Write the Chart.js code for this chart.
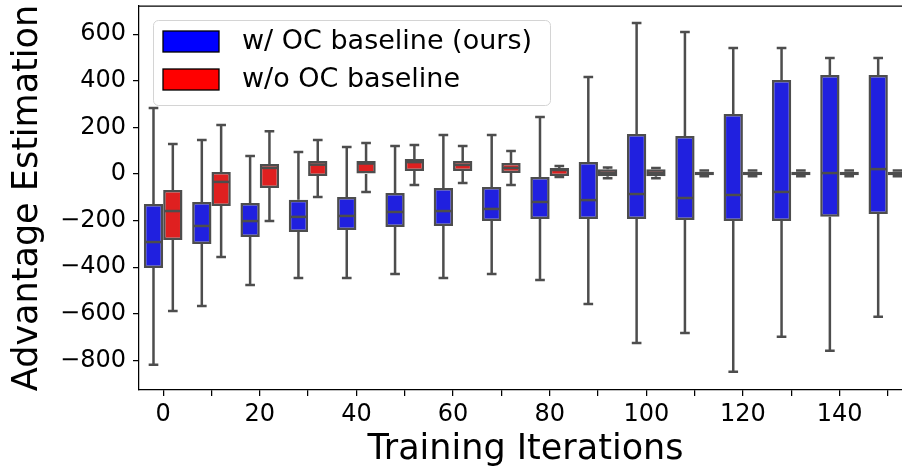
<!DOCTYPE html>
<html lang="en">
<head>
<meta charset="UTF-8">
<title>Advantage Estimation</title>
<script src="https://cdn.jsdelivr.net/npm/chart.js"></script>
<style>
html, body { margin:0; padding:0; background:#fff; overflow:hidden; }
</style>
</head>
<body>

<canvas id="boxChart" width="916" height="472"></canvas>

<script>
// categories (training iteration) and which ones carry a label
const iterations = ["0","10","20","30","40","50","60","70","80","90","100","110","120","130","140","150"];
const xTickLabels = ["0","","20","","40","","60","","80","","100","","120","","140",""];
const yTicks = [-800,-600,-400,-200,0,200,400,600];

// w/ OC baseline (ours) : whisker low, Q1, median, Q3, whisker high
const oursLow  = [-819,-566,-476,-446,-446,-429,-446,-429,-455,-558,-725,-682,-849,-699,-759,-613];
const oursQ1   = [-403,-300,-270,-249,-240,-227,-223,-202,-193,-193,-193,-197,-202,-202,-184,-172];
const oursMed  = [-292,-223,-202,-184,-180,-163,-159,-150,-120,-112,-86,-103,-90,-77,4,21];
const oursQ3   = [-129,-120,-124,-111,-99,-82,-60,-56,-13,51,172,163,257,403,425,425];
const oursHigh = [283,146,77,94,116,120,167,167,245,416,648,609,541,541,498,498];

// w/o OC baseline
const baseLow  = [-588,-356,-202,-99,-77,-47,-39,-47,-13,-18,-18,-10,-10,-10,-10,-10];
const baseQ1   = [-283,-137,-60,-9,0,13,13,4,-9,-10,-10,-5,-5,-5,-5,-5];
const baseMed  = [-159,-34,26,40,45,51,39,26,17,5,5,3,3,3,3,3];
const baseQ3   = [-69,9,43,56,56,64,56,47,26,20,20,10,10,10,10,10];
const baseHigh = [129,210,184,146,133,124,120,99,34,28,26,15,15,15,15,15];

const edgeGray = "#4d4d4d";

Chart.defaults.font.family = "'DejaVu Sans', sans-serif";
Chart.defaults.color = "#000";

function makeBox(label, fill, legendFill, lo, q1, med, q3, hi){
    return {
        label: label,
        data: q1.map((v,i)=>[v, q3[i]]),
        backgroundColor: fill,
        borderColor: edgeGray,
        borderWidth: 2.5,
        borderSkipped: false,
        categoryPercentage: 0.8,
        barPercentage: 1.0,
        legendFill: legendFill,
        lo: lo, q1: q1, med: med, q3: q3, hi: hi
    };
}

// whiskers behind the boxes, medians on top
const boxParts = {
    id: "boxParts",
    beforeDatasetsDraw(chart){
        const ctx = chart.ctx, y = chart.scales.y;
        ctx.save();
        ctx.strokeStyle = edgeGray;
        ctx.lineWidth = 2.5;
        chart.data.datasets.forEach((ds,di)=>{
            chart.getDatasetMeta(di).data.forEach((el,i)=>{
                const cx = el.x, cap = el.width/4;
                const pts = [[ds.q3[i], ds.hi[i]], [ds.q1[i], ds.lo[i]]];
                pts.forEach(p=>{
                    const a = y.getPixelForValue(p[0]), b = y.getPixelForValue(p[1]);
                    ctx.beginPath();
                    ctx.moveTo(cx, a); ctx.lineTo(cx, b);
                    ctx.moveTo(cx-cap, b); ctx.lineTo(cx+cap, b);
                    ctx.stroke();
                });
            });
        });
        ctx.restore();
    },
    afterDatasetsDraw(chart){
        const ctx = chart.ctx, y = chart.scales.y;
        ctx.save();
        ctx.strokeStyle = edgeGray;
        ctx.lineWidth = 2.5;
        chart.data.datasets.forEach((ds,di)=>{
            chart.getDatasetMeta(di).data.forEach((el,i)=>{
                const m = y.getPixelForValue(ds.med[i]);
                ctx.beginPath();
                ctx.moveTo(el.x-el.width/2+1, m); ctx.lineTo(el.x+el.width/2-1, m);
                ctx.stroke();
            });
        });
        ctx.restore();
    }
};

// top spine + legend box in the upper left of the plot
const frameLegend = {
    id: "frameLegend",
    afterDraw(chart){
        const ctx = chart.ctx, a = chart.chartArea;
        ctx.save();
        ctx.strokeStyle = "#000";
        ctx.lineWidth = 1.25;
        ctx.beginPath();
        ctx.moveTo(a.left, a.top); ctx.lineTo(a.right, a.top);
        ctx.stroke();

        const lx = a.left + 14, ly = a.top + 14, lw = 397, lh = 85;
        ctx.beginPath();
        ctx.roundRect(lx+0.5, ly+0.5, lw, lh, 5);
        ctx.fillStyle = "rgba(255,255,255,0.8)";
        ctx.fill();
        ctx.strokeStyle = "#d4d4d4";
        ctx.lineWidth = 1;
        ctx.stroke();

        ctx.font = "27px 'DejaVu Sans'";
        ctx.textBaseline = "middle";
        ctx.textAlign = "left";
        chart.data.datasets.forEach((ds,i)=>{
            const ry = ly + 11 + i*38;
            ctx.fillStyle = ds.legendFill;
            ctx.fillRect(lx+10, ry, 56, 21);
            ctx.strokeStyle = "#000";
            ctx.lineWidth = 1.3;
            ctx.strokeRect(lx+10, ry, 56, 21);
            ctx.fillStyle = "#000";
            ctx.fillText(ds.label, lx+89, ry+11);
        });
        ctx.restore();
    }
};

new Chart(document.getElementById("boxChart"), {
    type: "bar",
    data: {
        labels: iterations,
        datasets: [
            makeBox("w/ OC baseline (ours)", "rgb(32,32,223)", "#0000ff", oursLow, oursQ1, oursMed, oursQ3, oursHigh),
            makeBox("w/o OC baseline", "rgb(223,32,32)", "#ff0000", baseLow, baseQ1, baseMed, baseQ3, baseHigh)
        ]
    },
    options: {
        responsive: false,
        animation: false,
        layout: { padding: { top: 6, right: 4, bottom: 0, left: 0 } },
        plugins: { legend: { display: false }, tooltip: { enabled: false } },
        scales: {
            x: {
                offset: true,
                grid: { offset: false, drawOnChartArea: false, color: "#000", lineWidth: 1.25, tickLength: 6 },
                border: { display: true, color: "#000", width: 1.25 },
                ticks: {
                    autoSkip: false, maxRotation: 0, padding: 4,
                    font: { size: 24 },
                    callback: (v,i) => xTickLabels[i]
                },
                title: { display: true, text: "Training Iterations", font: { size: 35 }, padding: { top: 0, bottom: 1 } },
                afterFit: s => { s.height = 82; s.paddingLeft = 0; s.paddingRight = 0; }
            },
            y: {
                min: -927, max: 721,
                afterBuildTicks: s => { s.ticks = yTicks.map(v => ({ value: v })); },
                grid: { drawOnChartArea: false, color: "#000", lineWidth: 1.25, tickLength: 6 },
                border: { display: true, color: "#000", width: 1.25 },
                ticks: {
                    padding: 7,
                    font: { size: 24 },
                    callback: v => String(v).replace("-", "\u2212")
                },
                title: { display: true, text: "Advantage Estimation", font: { size: 35 }, padding: { top: 7, bottom: 0 } },
                afterFit: s => { s.width = 139; s.paddingTop = 0; s.paddingBottom = 0; }
            }
        }
    },
    plugins: [boxParts, frameLegend]
});
</script>

</body>
</html>
